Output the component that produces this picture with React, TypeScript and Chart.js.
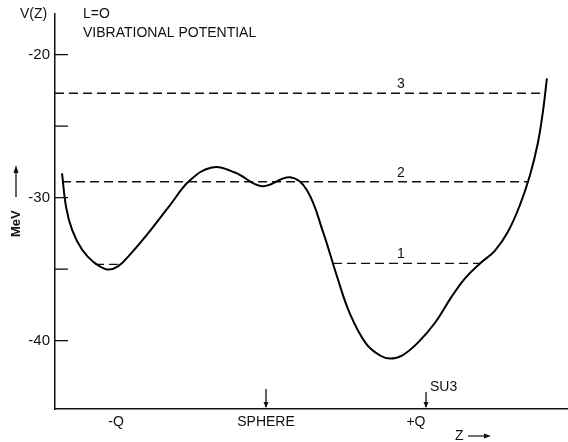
import React, { useEffect, useRef } from "react";
import { Chart, registerables } from "chart.js";

Chart.register(...registerables);

// Collective coordinate Z (units where -Q = -1, sphere = 0, +Q = 1)
const Z_POINTS = [
  -1.36, -1.333, -1.293, -1.227, -1.147, -1.06, -0.987, -0.907, -0.773, -0.64,
  -0.507, -0.36, -0.207, -0.027, 0.16, 0.273, 0.38, 0.473, 0.56, 0.667,
  0.76, 0.827, 0.907, 1.013, 1.127, 1.24, 1.327, 1.427, 1.527, 1.613,
  1.693, 1.76, 1.813, 1.847, 1.873,
];
// Vibrational potential V(Z) in MeV
const V_POINTS = [
  -28.3, -30.66, -32.25, -33.63, -34.53, -35.02, -34.81, -33.98, -32.32, -30.52,
  -28.79, -27.89, -28.24, -29.2, -28.58, -29.48, -32.39, -35.5, -38.13, -40.21,
  -41.04, -41.25, -41.04, -40.14, -38.75, -36.89, -35.64, -34.6, -33.7, -32.39,
  -30.52, -28.44, -26.16, -23.94, -21.66,
];

// Vibrational levels (dashed)
const LEVEL_V = [-34.67, -34.6, -28.89, -22.7];
const LEVEL_Z_START = [-1.14, 0.447, -1.36, -1.407];
const LEVEL_Z_END = [-0.973, 1.427, 1.747, 1.86];
const LEVEL_LABELS = ["", "1", "2", "3"];

const X_TICKS = [-1, 0, 1];
const X_TICK_LABELS = ["-Q", "SPHERE", "+Q"];
const Y_TICKS = [-40, -35, -30, -25, -20];
const Y_TICK_LABELS = ["-40", "", "-30", "", "-20"];
const SU3_Z = 1.067;
const SPHERE_Z = 0;

const FONT = "'Liberation Sans', Arial, sans-serif";

export default function App() {
  const ref = useRef<HTMLCanvasElement | null>(null);

  useEffect(() => {
    if (!ref.current) return;

    const curve = Z_POINTS.map((z, i) => ({ x: z, y: V_POINTS[i] }));
    const levelSets = LEVEL_V.map((v, i) => ({
      data: [
        { x: LEVEL_Z_START[i], y: v },
        { x: LEVEL_Z_END[i], y: v },
      ],
      borderColor: "#111",
      borderWidth: 1.3,
      borderDash: [9, 5],
      pointRadius: 0,
      tension: 0,
      fill: false,
    }));

    const decor = {
      id: "decor",
      afterDraw(chart: any) {
        const ctx = chart.ctx;
        const xs = chart.scales.x;
        const ys = chart.scales.y;
        const area = chart.chartArea;
        ctx.save();
        ctx.strokeStyle = "#111";
        ctx.fillStyle = "#111";
        // inward y tick marks
        ctx.lineWidth = 1.3;
        Y_TICKS.forEach((t) => {
          const py = ys.getPixelForValue(t);
          ctx.beginPath();
          ctx.moveTo(area.left, py);
          ctx.lineTo(area.left + 13, py);
          ctx.stroke();
        });
        // level labels
        ctx.font = `14px ${FONT}`;
        ctx.textAlign = "center";
        ctx.textBaseline = "middle";
        LEVEL_LABELS.forEach((lab, i) => {
          if (!lab) return;
          const px = xs.getPixelForValue(0.9);
          const py = ys.getPixelForValue(LEVEL_V[i]) - 9;
          ctx.fillText(lab, px, py);
        });
        // arrows on the axis
        const arrow = (z: number, top: number) => {
          const px = xs.getPixelForValue(z);
          ctx.lineWidth = 1.3;
          ctx.beginPath();
          ctx.moveTo(px, top);
          ctx.lineTo(px, area.bottom - 2);
          ctx.stroke();
          ctx.beginPath();
          ctx.moveTo(px - 2.5, area.bottom - 7);
          ctx.lineTo(px + 2.5, area.bottom - 7);
          ctx.lineTo(px, area.bottom - 1);
          ctx.closePath();
          ctx.fill();
        };
        arrow(SPHERE_Z, area.bottom - 20);
        arrow(SU3_Z, area.bottom - 17);
        ctx.textAlign = "left";
        ctx.fillText("SU3", xs.getPixelForValue(SU3_Z) + 4, area.bottom - 22);
        // titles
        ctx.fillText("V(Z)", 20, 14);
        ctx.fillText("L=O", 83, 14);
        ctx.fillText("VIBRATIONAL POTENTIAL", 83, 33);
        // Z arrow
        ctx.fillText("Z", 455, 436);
        ctx.lineWidth = 1.2;
        ctx.beginPath();
        ctx.moveTo(468, 436);
        ctx.lineTo(488, 436);
        ctx.stroke();
        ctx.beginPath();
        ctx.moveTo(491, 436);
        ctx.lineTo(484, 433.5);
        ctx.lineTo(484, 438.5);
        ctx.closePath();
        ctx.fill();
        // MeV label
        ctx.save();
        ctx.translate(16, 237);
        ctx.rotate(-Math.PI / 2);
        ctx.font = `bold 13px ${FONT}`;
        ctx.textAlign = "left";
        ctx.fillText("MeV", 0, 0);
        ctx.lineWidth = 1.3;
        ctx.beginPath();
        ctx.moveTo(40, 0);
        ctx.lineTo(68, 0);
        ctx.stroke();
        ctx.beginPath();
        ctx.moveTo(72, 0);
        ctx.lineTo(64, -2.5);
        ctx.lineTo(64, 2.5);
        ctx.closePath();
        ctx.fill();
        ctx.restore();
        ctx.restore();
      },
    };

    const chart = new Chart(ref.current, {
      type: "line",
      data: {
        datasets: [
          {
            data: curve,
            borderColor: "#000",
            borderWidth: 2,
            pointRadius: 0,
            tension: 0.4,
            fill: false,
          },
          ...levelSets,
        ] as any,
      },
      options: {
        animation: false,
        responsive: false,
        devicePixelRatio: 1,
        layout: { padding: { top: 10, right: 1, left: 0, bottom: 0 } },
        plugins: { legend: { display: false }, tooltip: { enabled: false } },
        scales: {
          x: {
            type: "linear",
            min: -1.407,
            max: 2.007,
            afterFit: (s: any) => {
              s.height = 33;
            },
            afterBuildTicks: (s: any) => {
              s.ticks = X_TICKS.map((v) => ({ value: v }));
            },
            grid: { display: false, drawTicks: false },
            border: { display: true, color: "#111", width: 1.5 },
            ticks: {
              padding: 5,
              color: "#111",
              font: { family: FONT, size: 14 },
              maxRotation: 0,
              autoSkip: false,
              callback: (v: any) => {
                const i = X_TICKS.indexOf(Number(v));
                return i >= 0 ? X_TICK_LABELS[i] : "";
              },
            },
          },
          y: {
            type: "linear",
            min: -44.78,
            max: -17.16,
            afterFit: (s: any) => {
              s.width = 55;
            },
            afterBuildTicks: (s: any) => {
              s.ticks = Y_TICKS.map((v) => ({ value: v }));
            },
            grid: { display: false, drawTicks: false },
            border: { display: true, color: "#111", width: 1.5 },
            ticks: {
              padding: 5,
              color: "#111",
              font: { family: FONT, size: 15 },
              autoSkip: false,
              callback: (v: any) => {
                const i = Y_TICKS.indexOf(Number(v));
                return i >= 0 ? Y_TICK_LABELS[i] : "";
              },
            },
          },
        },
      },
      plugins: [decor],
    } as any);

    return () => chart.destroy();
  }, []);

  return (
    <div style={{ position: "fixed", left: 0, top: 0, width: 568, height: 442, background: "#fff" }}>
      <canvas ref={ref} width={568} height={442} style={{ width: 568, height: 442, display: "block" }} />
    </div>
  );
}
